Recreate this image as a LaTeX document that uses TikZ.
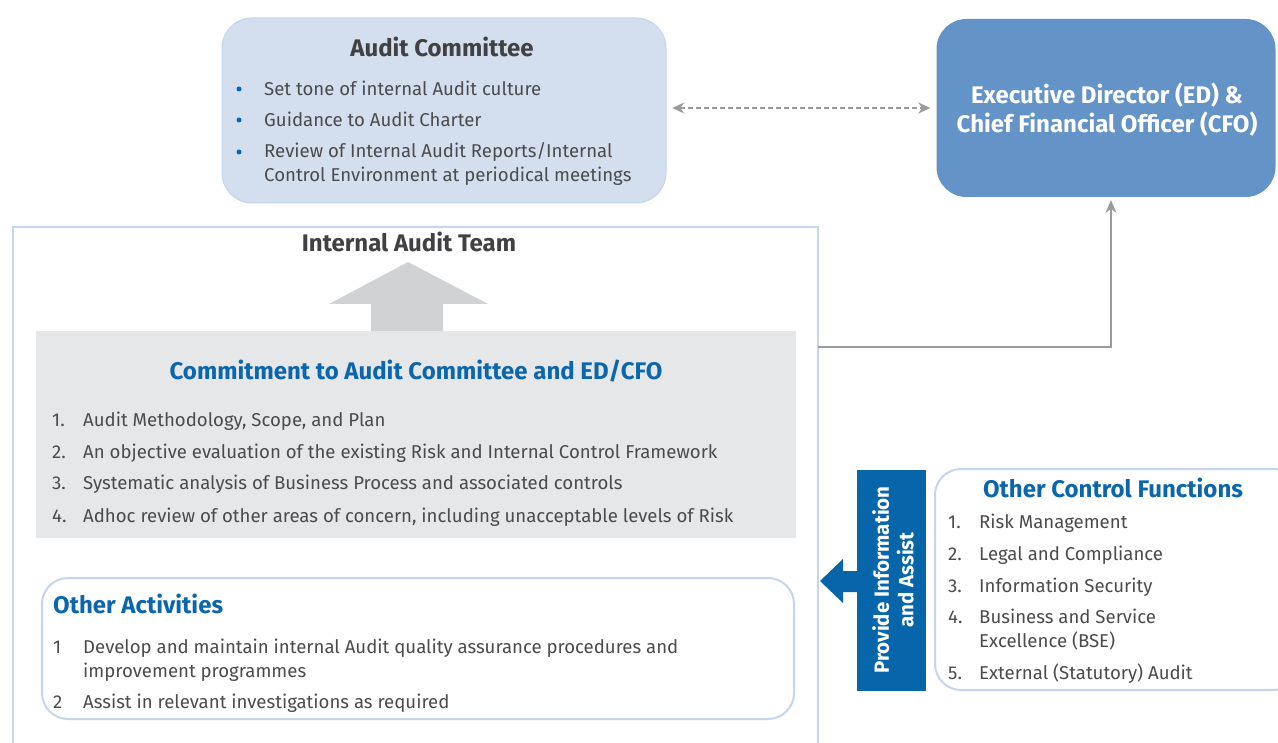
\documentclass[tikz,border=0pt]{standalone}
\usepackage{fontspec}
\setmainfont{Fira Sans}
\usetikzlibrary{arrows.meta}
\definecolor{acfill}{HTML}{D3DEEF}
\definecolor{edfill}{HTML}{6393C7}
\definecolor{lblue}{HTML}{C6D5EC}
\definecolor{dblue}{HTML}{0765A9}
\definecolor{tblue}{HTML}{0B66AE}
\definecolor{gfill}{HTML}{E6E7E8}
\definecolor{garrow}{HTML}{D1D2D4}
\definecolor{conn}{HTML}{9A9B9D}
\definecolor{txt}{HTML}{4B4B4D}
\definecolor{head}{HTML}{414042}
\tikzset{
  body/.style={anchor=base west, inner sep=0pt, text=txt, font=\fontsize{18.6}{24}\selectfont},
  numlbl/.style={body},
  bul/.style={circle, fill=tblue, inner sep=0pt, minimum size=5pt},
  headtxt/.style={anchor=base, inner sep=0pt, text=head, font=\fontsize{24}{28}\selectfont\bfseries},
  bluetitle/.style={inner sep=0pt, text=tblue, font=\fontsize{24}{28}\selectfont\bfseries},
  roundbox/.style={draw=lblue, line width=2pt, rounded corners=26pt},
  conline/.style={draw=conn, line width=2pt},
}
\begin{document}
\begin{tikzpicture}[x=1pt,y=-1pt]
\useasboundingbox (0,0) rectangle (1278,743);
\clip (0,0) rectangle (1278,743);
\fill[white] (0,0) rectangle (1278,743);

% Audit Committee box
\path[fill=acfill, draw=lblue, line width=1pt, rounded corners=30pt] (222,18) rectangle (666,203);
\node (ac) at (444,110.5) [minimum width=444pt, minimum height=185pt, inner sep=0pt] {};
\node[headtxt] (actitle) at (442,57) {Audit Committee};
\node[bul] (b1) at (239,89) {};
\node[bul] (b2) at (239,120) {};
\node[bul] (b3) at (239,152) {};
\node[body] (a1) at (264,96) {Set tone of internal Audit culture};
\node[body] (a2) at (264,127) {Guidance to Audit Charter};
\node[body] (a3) at (264,158) {Review of Internal Audit Reports/Internal};
\node[body] (a4) at (264,182) {Control Environment at periodical meetings};

% ED & CFO box
\node (ed) at (1106,108) [fill=edfill, rounded corners=30pt, minimum width=339pt, minimum height=178pt, inner sep=0pt] {};
\node (edtxt) at (1107,110) [inner sep=0pt, text=white, align=center, font=\fontsize{24}{29}\selectfont\bfseries]
  {Executive Director (ED) \&\\Chief Financial Officer (CFO)};

% dashed double arrow
\coordinate (d1) at ([xshift=6pt,yshift=2.5pt]ac.east);
\coordinate (d2) at ([xshift=-6pt]d1 -| ed.west);
\draw[conline, line width=1.6pt, dash pattern=on 5pt off 3pt,
  {Stealth[length=12pt,width=11pt]}-{Stealth[length=12pt,width=11pt]}] (d1) -- (d2);

% Internal Audit Team frame
\draw[lblue, line width=2pt] (13,750) -- (13,227) -- (818,227) -- (818,750);
\coordinate (iatR) at (818,347);
\node[headtxt] (iat) at (409,252) {Internal Audit Team};

% big grey up arrow
\fill[garrow] (371,332) -- (371,304) -- (329,304) -- (408,262) -- (488,304) -- (443,304) -- (443,332) -- cycle;

% Commitment box
\node (cm) at (416,434.5) [fill=gfill, minimum width=760pt, minimum height=207pt, inner sep=0pt] {};
\node[bluetitle, anchor=base] (cmtitle) at (416,380) {Commitment to Audit Committee and ED/CFO};
\node[numlbl] (n1) at (52,427) {1.};
\node[numlbl] (n2) at (52,458) {2.};
\node[numlbl] (n3) at (52,489) {3.};
\node[numlbl] (n4) at (52,522) {4.};
\node[body] (c1) at (83,427) {Audit Methodology, Scope, and Plan};
\node[body] (c2) at (83,458) {An objective evaluation of the existing Risk and Internal Control Framework};
\node[body] (c3) at (83,489) {Systematic analysis of Business Process and associated controls};
\node[body] (c4) at (83,522) {Adhoc review of other areas of concern, including unacceptable levels of Risk};

% connector to ED
\coordinate (edin) at (1111,200);
\draw[conline, -{Stealth[length=13pt,width=11pt]}] (iatR) -| (edin);

% Other Activities
\path[roundbox, fill=white] (42,578) rectangle (794,719);
\node (oa) at (418,648.5) [minimum width=752pt, minimum height=141pt, inner sep=0pt] {};
\node[bluetitle, anchor=base west] (oatitle) at (53,613) {Other Activities};
\node[numlbl] (m1) at (53,653) {1};
\node[numlbl] (m2) at (53,708) {2};
\node[body] (o1) at (83,653) {Develop and maintain internal Audit quality assurance procedures and};
\node[body] (o1b) at (83,677) {improvement programmes};
\node[body] (o2) at (83,708) {Assist in relevant investigations as required};

% Provide information box
\node (pi) at (891.5,580.5) [fill=dblue, minimum width=69pt, minimum height=221pt, inner sep=0pt] {};
\node (pitxt) at (893,580) [rotate=90, inner sep=0pt, text=white, align=center, font=\fontsize{20.5}{24.5}\selectfont\bfseries]
  {Provide Information\\and Assist};
\fill[dblue] (pi.west |- 0,571) -- (843,571) -- (843,559) -- (820,581) -- (843,603) -- (843,592) -- (pi.west |- 0,592) -- cycle;

% Other Control Functions
\path[roundbox, fill=white] (935,469) rectangle (1300,690);
\node (ocf) at (1117,579.5) [minimum width=364pt, minimum height=221pt, inner sep=0pt] {};
\node[bluetitle, anchor=base] (ocftitle) at (1113,497) {Other Control Functions};
\node[numlbl] (k1) at (948,528) {1.};
\node[numlbl] (k2) at (948,560) {2.};
\node[numlbl] (k3) at (948,592) {3.};
\node[numlbl] (k4) at (948,623) {4.};
\node[numlbl] (k5) at (948,679) {5.};
\node[body] (f1) at (979,528) {Risk Management};
\node[body] (f2) at (979,560) {Legal and Compliance};
\node[body] (f3) at (979,592) {Information Security};
\node[body] (f4) at (979,623) {Business and Service};
\node[body] (f4b) at (979,647) {Excellence (BSE)};
\node[body] (f5) at (979,679) {External (Statutory) Audit};
\end{tikzpicture}
\end{document}
